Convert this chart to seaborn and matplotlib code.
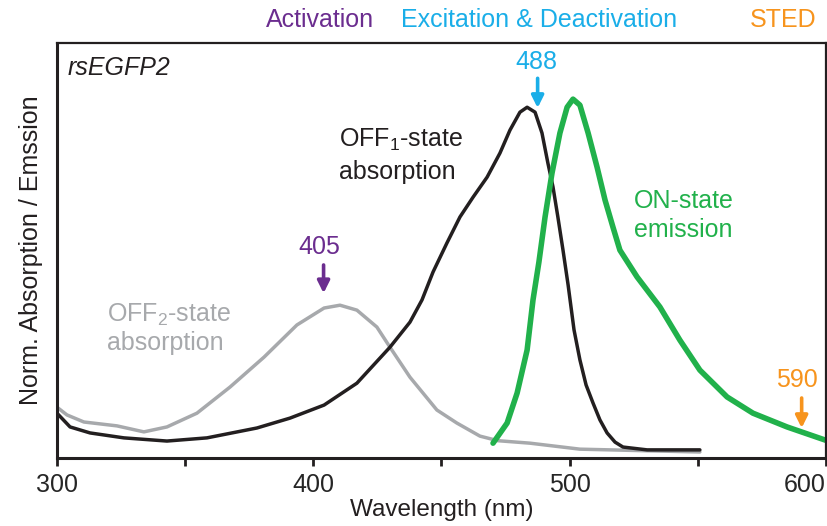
import numpy as np
import pandas as pd
import matplotlib
matplotlib.use("Agg")
import matplotlib.pyplot as plt
import seaborn as sns

# 스펙트럼 값 (그림에서 읽음, 최대 흡수 = 1 로 정규화)
off1_nm = [300.0, 305.1, 312.9, 326.1, 342.9, 358.5, 378.0, 390.9, 404.2, 417.0,
           429.9, 437.7, 442.4, 446.7, 452.1, 457.2, 462.3, 467.8, 472.8, 476.7,
           480.6, 483.4, 486.5, 489.2, 491.5, 493.5, 495.4, 497.4, 499.4, 501.7,
           504.0, 506.4, 509.1, 511.8, 514.6, 517.7, 520.8, 530.2, 550.8]
off1_abs = [0.127, 0.088, 0.071, 0.057, 0.048, 0.057, 0.085, 0.113, 0.150, 0.212,
            0.314, 0.385, 0.448, 0.527, 0.609, 0.683, 0.739, 0.796, 0.864, 0.929,
            0.980, 0.994, 0.980, 0.921, 0.836, 0.768, 0.683, 0.589, 0.490, 0.363,
            0.278, 0.207, 0.156, 0.108, 0.071, 0.045, 0.031, 0.023, 0.023]

off2_nm = [300.0, 303.9, 310.5, 323.4, 333.9, 342.9, 354.6, 367.5, 380.8, 393.6,
           404.2, 410.4, 417.0, 424.8, 429.9, 437.7, 448.2, 456.0, 465.0, 472.0,
           484.5, 504.0, 550.8]
off2_abs = [0.144, 0.122, 0.102, 0.091, 0.074, 0.088, 0.127, 0.201, 0.286, 0.377,
            0.425, 0.433, 0.419, 0.371, 0.314, 0.229, 0.136, 0.099, 0.062, 0.049,
            0.042, 0.025, 0.017]

on_nm = [470.1, 475.6, 479.5, 483.4, 485.7, 488.0, 490.4, 493.1, 496.2, 499.0,
         501.3, 504.0, 507.2, 510.7, 513.8, 516.9, 519.6, 526.3, 535.2, 543.0,
         550.8, 561.4, 571.5, 584.8, 600.0]
on_em = [0.042, 0.099, 0.184, 0.306, 0.448, 0.555, 0.683, 0.807, 0.921, 0.994,
         1.017, 1.000, 0.921, 0.824, 0.731, 0.654, 0.589, 0.513, 0.428, 0.334,
         0.249, 0.173, 0.127, 0.088, 0.050]

# 레이저 선
laser_nm = [404, 487.5, 590.5]
laser_txt = ["405", "488", "590"]
laser_col = ["#6b2d8f", "#1aaee8", "#f7941d"]
arrow_top = [0.547, 1.076, 0.170]
arrow_tip = [0.467, 0.992, 0.085]
label_y = [0.598, 1.122, 0.221]
label_x = [402.5, 487.0, 588.7]

sns.set_style("white")
plt.rcParams["font.family"] = ["Liberation Sans", "DejaVu Sans"]
plt.rcParams["mathtext.fontset"] = "custom"
plt.rcParams["mathtext.rm"] = "Liberation Sans"
plt.rcParams["mathtext.default"] = "rm"

BLACK = "#231f20"
GRAY = "#a7a9ac"
GREEN = "#21b14b"
FS = 18

fig = plt.figure(figsize=(8.27, 5.26), dpi=100)
ax = fig.add_axes([0.0689, 0.1293, 0.9299, 0.7889])

sns.lineplot(x=off2_nm, y=off2_abs, ax=ax, color=GRAY, lw=2.5,
             solid_joinstyle="round")
sns.lineplot(x=off1_nm, y=off1_abs, ax=ax, color=BLACK, lw=2.5,
             solid_joinstyle="round")
sns.lineplot(x=on_nm, y=on_em, ax=ax, color=GREEN, lw=4.0,
             solid_capstyle="round", solid_joinstyle="round")

ax.set_xlim(300, 600)
ax.set_ylim(0, 1.176)
ax.set_yticks([])
ax.set_xticks([300, 400, 500, 600])
ax.set_xticks([350, 450, 550], minor=True)
ax.set_xticklabels(["300", "400", "500", "600"], fontsize=FS)
ax.get_xticklabels()[-1].set_ha("right")
ax.tick_params(axis="x", which="both", direction="out", length=6, width=2,
               color=BLACK, bottom=True, pad=5)
for side in ["left", "bottom"]:
    ax.spines[side].set_linewidth(2.2)
for side in ["top", "right"]:
    ax.spines[side].set_linewidth(1.6)
for sp in ax.spines.values():
    sp.set_color(BLACK)

ax.set_xlabel("Wavelength (nm)", fontsize=17.5, color=BLACK)
ax.xaxis.set_label_coords(0.5, -0.10)
ax.set_ylabel("Norm. Absorption / Emssion", fontsize=FS, color=BLACK, labelpad=10)

ax.text(0.014, 0.94, "rsEGFP2", transform=ax.transAxes, fontsize=FS,
        style="italic", va="center", color=BLACK)

ax.text(410.0, 0.881, r"OFF$_1$-state", fontsize=FS, color=BLACK, va="baseline")
ax.text(410.0, 0.790, "absorption", fontsize=FS, color=BLACK, va="baseline")
ax.text(319.5, 0.385, r"OFF$_2$-state", fontsize=FS, color=GRAY, va="baseline")
ax.text(319.5, 0.306, "absorption", fontsize=FS, color=GRAY, va="baseline")
ax.text(525.1, 0.708, "ON-state", fontsize=FS, color=GREEN, va="baseline")
ax.text(525.1, 0.626, "emission", fontsize=FS, color=GREEN, va="baseline")

for x, t, c, y0, y1, ly, lx in zip(laser_nm, laser_txt, laser_col,
                                    arrow_top, arrow_tip, label_y, label_x):
    ax.annotate("", xy=(x, y1), xytext=(x, y0),
                arrowprops=dict(arrowstyle="-|>", color=c, lw=2.6,
                                mutation_scale=18, shrinkA=0, shrinkB=0))
    ax.text(lx, ly, t, fontsize=FS, color=c, ha="center", va="center")

fig.text(0.387, 0.962, "Activation", fontsize=FS, color=laser_col[0],
         ha="center", va="center")
fig.text(0.652, 0.962, "Excitation & Deactivation", fontsize=FS,
         color=laser_col[1], ha="center", va="center")
fig.text(0.947, 0.962, "STED", fontsize=FS, color=laser_col[2],
         ha="center", va="center")

fig.savefig("out.png", dpi=100)
